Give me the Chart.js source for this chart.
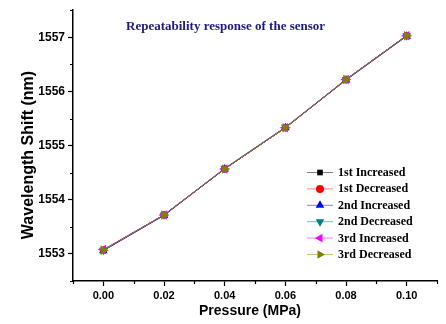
<!DOCTYPE html>
<html>
<head>
<meta charset="utf-8">
<script src="https://cdn.jsdelivr.net/npm/chart.js@4.4.1/dist/chart.umd.min.js"></script>
<style>
  body { margin: 0; background: #fff; }
  canvas { display: block; }
</style>
</head>
<body>
<canvas id="chart" width="446" height="324"></canvas>
<script>
// pressure steps (MPa)
var pressure = [0.00, 0.02, 0.04, 0.06, 0.08, 0.10];

// wavelength shift (nm), one array per run
var firstIncreased  = [1553.07, 1553.72, 1554.57, 1555.33, 1556.22, 1557.03];
var firstDecreased  = [1553.07, 1553.72, 1554.57, 1555.33, 1556.22, 1557.03];
var secondIncreased = [1553.06, 1553.71, 1554.57, 1555.33, 1556.21, 1557.02];
var secondDecreased = [1553.07, 1553.72, 1554.58, 1555.34, 1556.22, 1557.03];
var thirdIncreased  = [1553.08, 1553.72, 1554.57, 1555.33, 1556.22, 1557.03];
var thirdDecreased  = [1553.07, 1553.72, 1554.57, 1555.33, 1556.22, 1557.03];

var seriesNames  = ['1st Increased', '1st Decreased', '2nd Increased', '2nd Decreased', '3rd Increased', '3rd Decreased'];
var seriesValues = [firstIncreased, firstDecreased, secondIncreased, secondDecreased, thirdIncreased, thirdDecreased];
var seriesColors = ['#000000', '#ff0000', '#0000ff', '#008080', '#ff00ff', '#808000'];
var seriesShapes = ['rect', 'circle', 'triangle', 'triangle', 'triangle', 'triangle'];
var seriesRotate = [0, 0, 0, 180, -90, 90];
var seriesRadius = [3.5, 3.5, 5, 5, 5.5, 5.5];

var chartTitle = 'Repeatability response of the sensor';
var xTitle = 'Pressure (MPa)';
var yTitle = 'Wavelength Shift (nm)';

var datasets = [];
for (var i = 0; i < seriesNames.length; i++) {
    var pts = [];
    for (var j = 0; j < pressure.length; j++) {
        pts.push({x: pressure[j], y: seriesValues[i][j]});
    }
    datasets.push({
        label: seriesNames[i],
        data: pts,
        borderColor: seriesColors[i],
        backgroundColor: seriesColors[i],
        borderWidth: 1,
        pointStyle: seriesShapes[i],
        rotation: seriesRotate[i],
        pointRadius: seriesRadius[i],
        pointBorderWidth: 0,
        showLine: true,
        order: seriesNames.length - i
    });
}

function isMajorX(v) { return Math.abs(Math.round(v * 100)) % 2 === 0; }
function isMajorY(v) { return Math.abs(v - Math.round(v)) < 1e-6; }

// title, axis titles, minor ticks and the legend
var extras = {
    id: 'extras',
    afterDraw: function(chart) {
        var ctx = chart.ctx;
        var xs = chart.scales.x, ys = chart.scales.y;
        var area = chart.chartArea;
        ctx.save();

        // minor ticks
        ctx.strokeStyle = '#000';
        ctx.lineWidth = 1.2;
        ctx.beginPath();
        xs.ticks.forEach(function(t) {
            if (!isMajorX(t.value)) {
                var px = Math.round(xs.getPixelForValue(t.value)) + 0.5;
                ctx.moveTo(px, area.bottom);
                ctx.lineTo(px, area.bottom + 3);
            }
        });
        ys.ticks.forEach(function(t) {
            if (!isMajorY(t.value)) {
                var py = Math.round(ys.getPixelForValue(t.value)) + 0.5;
                ctx.moveTo(area.left, py);
                ctx.lineTo(area.left - 3, py);
            }
        });
        ctx.stroke();

        // chart title
        ctx.fillStyle = '#1a1a80';
        ctx.font = 'bold 13px "Liberation Serif", "Times New Roman", serif';
        ctx.textAlign = 'left';
        ctx.textBaseline = 'middle';
        ctx.fillText(chartTitle, 126, 27);

        // axis titles
        ctx.fillStyle = '#000';
        ctx.font = 'bold 14px "Liberation Sans", Arial, sans-serif';
        ctx.textAlign = 'center';
        ctx.fillText(xTitle, 250, 311);
        ctx.save();
        ctx.translate(29, 155);
        ctx.rotate(-Math.PI / 2);
        ctx.font = 'bold 16px "Liberation Sans", Arial, sans-serif';
        ctx.fillText(yTitle, 0, 0);
        ctx.restore();

        // legend
        ctx.font = 'bold 12px "Liberation Serif", "Times New Roman", serif';
        ctx.textAlign = 'left';
        for (var i = 0; i < seriesNames.length; i++) {
            var y = 172.5 + i * 16.4;
            ctx.strokeStyle = seriesColors[i];
            ctx.globalAlpha = 0.5;
            ctx.lineWidth = 1;
            ctx.beginPath();
            ctx.moveTo(307, y);
            ctx.lineTo(333, y);
            ctx.stroke();
            ctx.globalAlpha = 1;
            ctx.fillStyle = seriesColors[i];
            Chart.helpers.drawPoint(ctx, {
                pointStyle: seriesShapes[i],
                rotation: seriesRotate[i],
                radius: seriesShapes[i] === 'triangle' ? 5 : 4,
                borderWidth: 0
            }, 320, y);
            ctx.fillStyle = '#000';
            ctx.fillText(seriesNames[i], 338, y + 0.5);
        }
        ctx.restore();
    }
};

var ctxChart = document.getElementById('chart').getContext('2d');
var chart = new Chart(ctxChart, {
    type: 'scatter',
    data: { datasets: datasets },
    options: {
        responsive: false,
        animation: false,
        layout: { padding: { left: 0, right: 9, top: 10, bottom: 0 } },
        plugins: {
            legend: { display: false },
            tooltip: { enabled: false }
        },
        scales: {
            x: {
                type: 'linear',
                min: -0.01,
                max: 0.11,
                afterFit: function(scale) { scale.height = 43; },
                border: { color: '#000', width: 1.5 },
                grid: {
                    drawOnChartArea: false,
                    tickLength: 5,
                    tickWidth: 1.2,
                    tickColor: function(c) { return isMajorX(c.tick.value) ? '#000' : 'rgba(0,0,0,0)'; }
                },
                ticks: {
                    stepSize: 0.01,
                    autoSkip: false,
                    maxRotation: 0,
                    padding: 3,
                    color: '#000',
                    font: { family: '"Liberation Sans", Arial, sans-serif', size: 11, weight: 'bold' },
                    callback: function(v) { return isMajorX(v) ? (Math.round(v * 100) / 100).toFixed(2) : ''; }
                }
            },
            y: {
                min: 1552.5,
                max: 1557.5,
                afterFit: function(scale) { scale.width = 73; },
                border: { color: '#000', width: 1.5 },
                grid: {
                    drawOnChartArea: false,
                    tickLength: 5,
                    tickWidth: 1.2,
                    tickColor: function(c) { return isMajorY(c.tick.value) ? '#000' : 'rgba(0,0,0,0)'; }
                },
                ticks: {
                    stepSize: 0.5,
                    autoSkip: false,
                    padding: 3,
                    color: '#000',
                    font: { family: '"Liberation Sans", Arial, sans-serif', size: 12, weight: 'bold' },
                    callback: function(v) { return isMajorY(v) ? String(Math.round(v)) : ''; }
                }
            }
        }
    },
    plugins: [extras]
});
</script>
</body>
</html>
